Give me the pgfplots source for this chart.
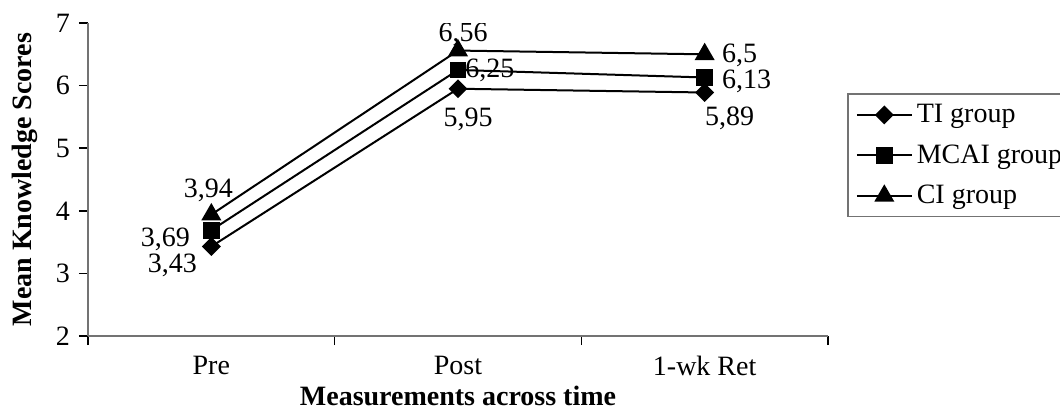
\documentclass[border=0pt]{standalone}
\usepackage{pgfplots}
\pgfplotsset{compat=1.18}
\usepackage{fontspec}
\setmainfont{Liberation Serif}

\begin{document}
\begin{tikzpicture}
\begin{axis}[
    scale only axis,
    width=370pt, height=156.5pt,
    xmin=0, xmax=3, ymin=2, ymax=7,
    axis x line*=bottom, axis y line*=left,
    axis line style={draw=black!55, line width=0.8pt},
    xtick={0,1,2,3},
    xticklabels={Pre,Post,1-wk Ret},
    x tick label as interval,
    ytick={2,3,4,5,6,7},
    tick align=outside,
    major tick length=4.5pt,
    tick style={black, line width=0.8pt},
    font=\fontsize{14}{16}\selectfont,
    /pgf/number format/assume math mode=true,
    xticklabel style={yshift=-4.5pt, inner sep=1pt},
    yticklabel style={xshift=-1pt},
    xlabel={\textbf{Measurements across time}},
    ylabel={\textbf{Mean Knowledge Scores}},
    every axis x label/.style={at={(axis description cs:0.5,0)}, anchor=center, inner sep=1pt, yshift=-30pt},
    every axis y label/.style={at={([xshift=-31.5pt]axis description cs:0,0.5)}, anchor=center, rotate=90},
    legend style={
        at={(axis description cs:1.0257,0.775)}, anchor=north west,
        draw=black!55, line width=0.8pt,
        font=\fontsize{14}{16}\selectfont,
        row sep=5.5pt, inner xsep=4pt, inner ysep=3pt,
    },
    legend cell align=left,
    legend image code/.code={
        \draw[mark repeat=2, mark phase=2, #1]
            plot coordinates {(0pt,0pt) (13.75pt,0pt) (27.5pt,0pt)};
    },
    every axis plot/.append style={black, line width=1pt},
]
\addplot[mark=square*, mark size=2.85pt, mark options={rotate=45, solid}]
    coordinates {(0.5,3.43) (1.5,5.95) (2.5,5.89)};
\addlegendentry{TI group}
\addplot[mark=square*, mark size=3.7pt, mark options={solid}]
    coordinates {(0.5,3.69) (1.5,6.25) (2.5,6.13)};
\addlegendentry{MCAI group}
\addplot[mark=triangle*, mark size=4.8pt, mark options={solid}]
    coordinates {(0.5,3.94) (1.5,6.56) (2.5,6.5)};
\addlegendentry{CI group}

\begin{scope}[every node/.style={inner sep=0pt, font=\fontsize{14}{16}\selectfont}]
\node[anchor=east] at (axis cs:0.5,3.43) [xshift=-7pt, yshift=-9.5pt] {3,43};
\node[anchor=east] at (axis cs:0.5,3.69) [xshift=-10.5pt, yshift=-4.5pt] {3,69};
\node at (axis cs:0.5,3.94) [xshift=-1.5pt, yshift=12pt] {3,94};
\node at (axis cs:1.5,5.95) [xshift=5pt, yshift=-15.5pt] {5,95};
\node[anchor=west] at (axis cs:1.5,6.25) [xshift=3.5pt, yshift=-0.25pt] {6,25};
\node at (axis cs:1.5,6.56) [xshift=2.5pt, yshift=8pt] {6,56};
\node at (axis cs:2.5,5.89) [xshift=12.5pt, yshift=-13pt] {5,89};
\node[anchor=west] at (axis cs:2.5,6.13) [xshift=8.5pt, yshift=-2pt] {6,13};
\node[anchor=west] at (axis cs:2.5,6.5) [xshift=8.5pt, yshift=-0.5pt] {6,5};
\end{scope}
\end{axis}
\pgfresetboundingbox
\useasboundingbox (-44pt,-36.5pt) rectangle (486pt,168pt);
\end{tikzpicture}
\end{document}
